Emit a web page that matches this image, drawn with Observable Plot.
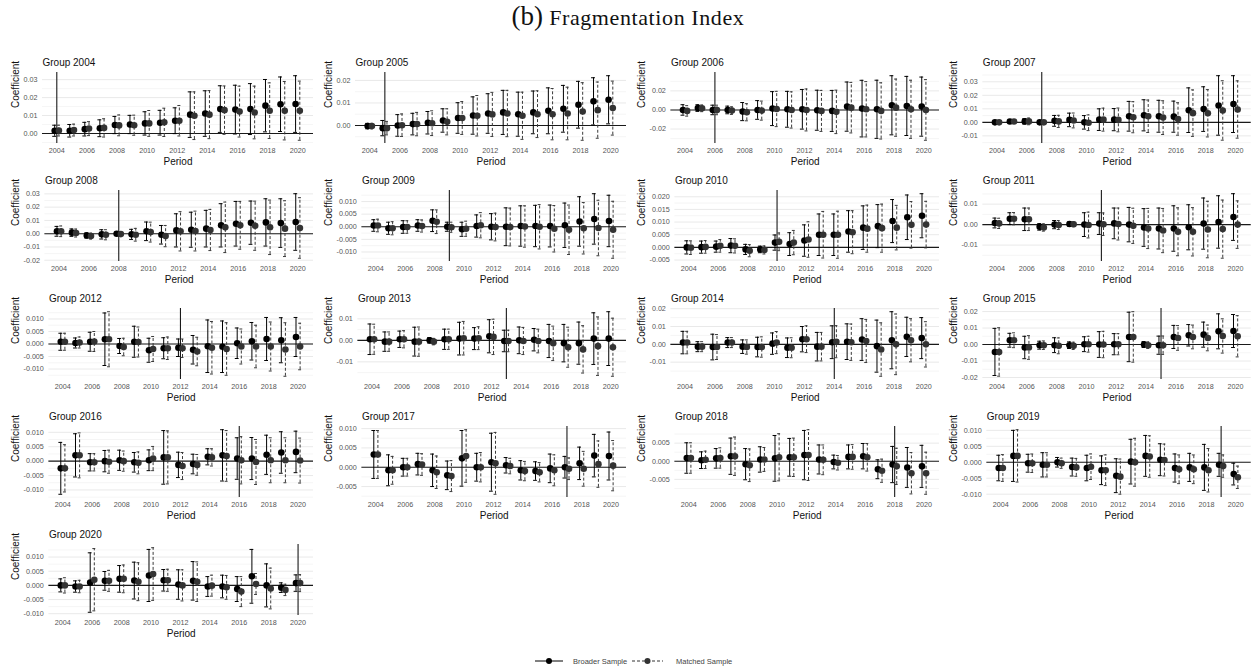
<!DOCTYPE html>
<html>
<head>
<meta charset="utf-8">
<script src="https://cdn.jsdelivr.net/npm/d3@7"></script>
<script src="https://cdn.jsdelivr.net/npm/@observablehq/plot@0.6"></script>
<style>
  body { margin: 0; background: #fff; }
  #root { position: relative; width: 1251px; height: 669px; overflow: hidden; background: #fff; }
  #title { position: absolute; left: 0; width: 1256px; top: 4px; text-align: center;
           font-family: "Liberation Serif", "DejaVu Serif", serif; font-size: 22px; line-height: 24px;
           letter-spacing: 0.6px; color: #111; }
  #title .tag { font-size: 27px; letter-spacing: 0; }
  .panel { position: absolute; }
  #legend { position: absolute; left: 0; top: 652px; }
</style>
</head>
<body>
<div id="root">
  <div id="title"><span class="tag">(b)</span> Fragmentation Index</div>
</div>
<script>
// Event-study coefficients of the fragmentation index, one row per treatment group,
// one column per period (2004 ... 2020). CI arrays hold the half-width of the 95% interval.
const years = [2004, 2005, 2006, 2007, 2008, 2009, 2010, 2011, 2012, 2013, 2014, 2015, 2016, 2017, 2018, 2019, 2020];
const groups = [2004, 2005, 2006, 2007, 2008, 2009, 2010, 2011, 2012, 2013, 2014, 2015, 2016, 2017, 2018, 2019, 2020];
const xTicks = [2004, 2006, 2008, 2010, 2012, 2014, 2016, 2018, 2020];

const broaderEst = [
  [0.0015,0.0015,0.0024,0.0029,0.0047,0.0050,0.0056,0.0060,0.0071,0.0105,0.0111,0.0136,0.0133,0.0136,0.0155,0.0163,0.0164],
  [-0.0003,-0.0012,0.0000,0.0006,0.0012,0.0022,0.0033,0.0044,0.0053,0.0058,0.0050,0.0058,0.0065,0.0074,0.0092,0.0107,0.0114],
  [0.0000,0.0020,0.0000,0.0000,-0.0017,0.0000,0.0014,0.0007,0.0007,-0.0003,-0.0010,0.0035,0.0014,0.0007,0.0049,0.0042,0.0035],
  [0.0000,0.0006,0.0007,0.0000,0.0011,0.0018,0.0000,0.0020,0.0020,0.0045,0.0052,0.0045,0.0042,0.0090,0.0098,0.0125,0.0135],
  [0.0018,0.0008,-0.0013,-0.0005,0.0000,-0.0005,0.0018,-0.0008,0.0025,0.0030,0.0038,0.0063,0.0075,0.0083,0.0085,0.0080,0.0088],
  [0.0005,-0.0006,-0.0001,0.0005,0.0024,0.0000,-0.0010,0.0003,0.0000,0.0000,0.0003,0.0003,0.0003,0.0006,0.0021,0.0031,0.0023],
  [0.0000,0.0001,0.0003,0.0007,-0.0008,-0.0008,0.0019,0.0013,0.0027,0.0050,0.0050,0.0063,0.0078,0.0084,0.0104,0.0119,0.0125],
  [0.0008,0.0029,0.0026,-0.0011,0.0000,0.0003,0.0000,0.0005,0.0006,0.0000,-0.0014,-0.0019,-0.0019,-0.0013,0.0005,0.0013,0.0037],
  [0.0009,0.0004,0.0009,0.0019,-0.0008,0.0009,-0.0025,-0.0017,-0.0015,-0.0023,-0.0009,-0.0011,0.0003,0.0011,0.0020,0.0015,0.0028],
  [0.0005,-0.0006,0.0005,-0.0006,0.0000,0.0005,0.0008,0.0008,0.0019,-0.0003,0.0000,0.0003,-0.0003,-0.0013,-0.0013,0.0008,0.0008],
  [0.0010,-0.0013,-0.0015,0.0010,-0.0013,-0.0015,0.0004,-0.0019,0.0029,-0.0013,0.0012,0.0015,0.0027,-0.0010,0.0023,0.0042,0.0035],
  [-0.0045,0.0026,-0.0018,-0.0004,-0.0004,-0.0004,0.0002,0.0000,0.0002,0.0046,0.0000,-0.0004,0.0046,0.0056,0.0060,0.0080,0.0082],
  [-0.0025,0.0020,-0.0004,0.0000,0.0003,-0.0004,0.0003,0.0013,-0.0013,-0.0010,0.0015,0.0020,0.0009,0.0009,0.0022,0.0030,0.0032],
  [0.0033,-0.0008,0.0000,0.0008,-0.0008,-0.0021,0.0023,0.0000,0.0013,0.0005,-0.0008,-0.0010,-0.0003,0.0000,0.0010,0.0030,0.0029],
  [0.0009,0.0003,0.0008,0.0014,-0.0008,0.0005,0.0008,0.0011,0.0017,0.0005,-0.0002,0.0012,0.0014,-0.0022,-0.0009,-0.0017,-0.0014],
  [-0.0018,0.0020,-0.0003,-0.0008,0.0000,-0.0015,-0.0018,-0.0025,-0.0042,0.0002,0.0020,0.0008,-0.0018,-0.0016,-0.0016,-0.0008,-0.0037],
  [0.0000,-0.0004,0.0010,0.0016,0.0023,0.0017,0.0035,0.0018,0.0003,0.0016,-0.0004,-0.0004,-0.0013,0.0032,0.0000,-0.0008,0.0008]
];
const broaderCI = [
  [0.0031,0.0035,0.0038,0.0047,0.0048,0.0051,0.0065,0.0069,0.0072,0.0127,0.0127,0.0130,0.0136,0.0142,0.0146,0.0152,0.0158],
  [0.0012,0.0034,0.0048,0.0048,0.0050,0.0052,0.0068,0.0083,0.0088,0.0098,0.0098,0.0095,0.0102,0.0104,0.0104,0.0105,0.0107],
  [0.0055,0.0035,0.0050,0.0040,0.0095,0.0098,0.0178,0.0188,0.0208,0.0210,0.0215,0.0258,0.0297,0.0305,0.0310,0.0310,0.0310],
  [0.0007,0.0008,0.0020,0.0000,0.0040,0.0050,0.0050,0.0080,0.0082,0.0110,0.0115,0.0118,0.0115,0.0165,0.0165,0.0220,0.0210],
  [0.0037,0.0028,0.0020,0.0035,0.0012,0.0038,0.0070,0.0070,0.0125,0.0132,0.0138,0.0163,0.0168,0.0163,0.0178,0.0183,0.0213],
  [0.0023,0.0024,0.0025,0.0023,0.0043,0.0018,0.0028,0.0044,0.0052,0.0075,0.0080,0.0082,0.0083,0.0088,0.0098,0.0100,0.0102],
  [0.0026,0.0024,0.0022,0.0028,0.0020,0.0013,0.0030,0.0045,0.0062,0.0082,0.0082,0.0082,0.0086,0.0085,0.0085,0.0088,0.0087],
  [0.0024,0.0029,0.0055,0.0016,0.0020,0.0010,0.0058,0.0053,0.0075,0.0084,0.0092,0.0100,0.0111,0.0110,0.0125,0.0128,0.0114],
  [0.0034,0.0020,0.0038,0.0105,0.0030,0.0062,0.0048,0.0042,0.0035,0.0057,0.0105,0.0103,0.0061,0.0075,0.0086,0.0090,0.0078],
  [0.0071,0.0045,0.0038,0.0067,0.0013,0.0047,0.0076,0.0051,0.0077,0.0050,0.0062,0.0052,0.0077,0.0087,0.0098,0.0120,0.0125],
  [0.0063,0.0028,0.0072,0.0028,0.0038,0.0055,0.0060,0.0055,0.0071,0.0080,0.0092,0.0100,0.0117,0.0146,0.0160,0.0110,0.0115],
  [0.0143,0.0042,0.0068,0.0024,0.0045,0.0020,0.0045,0.0078,0.0064,0.0150,0.0018,0.0055,0.0070,0.0065,0.0076,0.0106,0.0100],
  [0.0090,0.0075,0.0030,0.0037,0.0035,0.0034,0.0036,0.0093,0.0044,0.0034,0.0028,0.0089,0.0072,0.0073,0.0068,0.0072,0.0072],
  [0.0062,0.0040,0.0023,0.0028,0.0042,0.0037,0.0072,0.0036,0.0075,0.0020,0.0025,0.0024,0.0037,0.0028,0.0042,0.0055,0.0062],
  [0.0042,0.0023,0.0027,0.0050,0.0043,0.0035,0.0063,0.0052,0.0068,0.0040,0.0019,0.0033,0.0035,0.0026,0.0050,0.0055,0.0058],
  [0.0040,0.0080,0.0028,0.0038,0.0015,0.0028,0.0040,0.0045,0.0053,0.0070,0.0064,0.0050,0.0044,0.0044,0.0072,0.0036,0.0034],
  [0.0023,0.0020,0.0105,0.0033,0.0047,0.0065,0.0092,0.0038,0.0052,0.0068,0.0035,0.0040,0.0044,0.0095,0.0076,0.0017,0.0029]
];
const matchedEst = [
  [0.0016,0.0019,0.0027,0.0031,0.0045,0.0046,0.0056,0.0062,0.0071,0.0099,0.0105,0.0130,0.0122,0.0117,0.0127,0.0127,0.0127],
  [-0.0003,-0.0012,0.0001,0.0006,0.0010,0.0016,0.0033,0.0043,0.0049,0.0053,0.0043,0.0050,0.0050,0.0053,0.0062,0.0068,0.0077],
  [-0.0010,0.0017,0.0000,-0.0007,-0.0024,-0.0007,0.0010,0.0000,0.0000,-0.0010,-0.0020,0.0024,0.0007,-0.0010,0.0024,0.0007,0.0000],
  [0.0000,0.0006,0.0007,0.0000,0.0007,0.0014,-0.0003,0.0020,0.0018,0.0038,0.0045,0.0035,0.0025,0.0068,0.0067,0.0088,0.0095],
  [0.0018,0.0005,-0.0018,-0.0008,-0.0003,-0.0008,0.0012,-0.0018,0.0018,0.0020,0.0028,0.0048,0.0063,0.0060,0.0048,0.0038,0.0043],
  [0.0005,-0.0006,-0.0001,0.0003,0.0020,-0.0002,-0.0008,0.0006,-0.0001,-0.0001,0.0001,0.0000,-0.0008,-0.0012,-0.0006,-0.0005,-0.0012],
  [-0.0001,0.0002,0.0006,0.0006,-0.0013,-0.0010,0.0022,0.0019,0.0031,0.0050,0.0050,0.0060,0.0074,0.0076,0.0078,0.0089,0.0090],
  [0.0006,0.0029,0.0026,-0.0014,-0.0002,0.0002,-0.0002,0.0002,0.0003,-0.0006,-0.0019,-0.0029,-0.0035,-0.0035,-0.0024,-0.0022,0.0000],
  [0.0009,0.0006,0.0010,0.0019,-0.0012,0.0008,-0.0020,-0.0017,-0.0017,-0.0030,-0.0015,-0.0020,-0.0010,-0.0010,-0.0010,-0.0022,-0.0010],
  [0.0005,-0.0006,0.0005,-0.0006,-0.0006,0.0005,0.0010,0.0010,0.0016,-0.0003,-0.0003,-0.0003,-0.0014,-0.0032,-0.0042,-0.0027,-0.0032],
  [0.0010,-0.0013,-0.0015,0.0010,-0.0015,-0.0015,0.0010,-0.0019,0.0029,-0.0013,0.0015,0.0012,0.0019,-0.0029,0.0000,0.0023,0.0000],
  [-0.0045,0.0026,-0.0018,-0.0004,-0.0008,-0.0008,0.0002,0.0000,0.0002,0.0046,-0.0004,-0.0004,0.0040,0.0046,0.0040,0.0052,0.0050],
  [-0.0025,0.0020,-0.0004,-0.0002,0.0000,-0.0006,0.0009,0.0013,-0.0017,-0.0013,0.0013,0.0018,0.0003,-0.0003,0.0003,0.0003,0.0002],
  [0.0033,-0.0008,0.0000,0.0007,-0.0013,-0.0023,0.0029,0.0000,0.0010,0.0003,-0.0010,-0.0013,-0.0008,-0.0004,-0.0004,0.0008,0.0004],
  [0.0009,0.0004,0.0009,0.0014,-0.0011,0.0005,0.0011,0.0011,0.0017,0.0004,-0.0004,0.0012,0.0011,-0.0026,-0.0014,-0.0033,-0.0033],
  [-0.0018,0.0020,-0.0003,-0.0008,-0.0003,-0.0016,-0.0014,-0.0025,-0.0045,0.0000,0.0018,0.0007,-0.0022,-0.0022,-0.0025,-0.0012,-0.0047],
  [0.0000,-0.0004,0.0020,0.0016,0.0023,0.0013,0.0040,0.0018,0.0000,0.0013,-0.0001,-0.0007,-0.0022,0.0005,-0.0011,-0.0016,0.0008]
];
const matchedCI = [
  [0.0030,0.0033,0.0039,0.0051,0.0058,0.0056,0.0072,0.0079,0.0085,0.0133,0.0134,0.0135,0.0142,0.0147,0.0155,0.0163,0.0165],
  [0.0012,0.0030,0.0050,0.0052,0.0055,0.0058,0.0073,0.0090,0.0098,0.0103,0.0105,0.0104,0.0114,0.0117,0.0128,0.0125,0.0120],
  [0.0055,0.0035,0.0050,0.0040,0.0090,0.0100,0.0185,0.0190,0.0220,0.0215,0.0228,0.0265,0.0290,0.0295,0.0300,0.0305,0.0318],
  [0.0007,0.0008,0.0025,0.0000,0.0045,0.0055,0.0058,0.0085,0.0088,0.0115,0.0120,0.0125,0.0120,0.0172,0.0175,0.0220,0.0212],
  [0.0040,0.0030,0.0022,0.0038,0.0012,0.0048,0.0075,0.0080,0.0148,0.0150,0.0155,0.0190,0.0180,0.0185,0.0205,0.0210,0.0228],
  [0.0025,0.0026,0.0025,0.0024,0.0047,0.0020,0.0030,0.0050,0.0055,0.0075,0.0082,0.0088,0.0092,0.0098,0.0102,0.0110,0.0113],
  [0.0027,0.0025,0.0025,0.0028,0.0024,0.0016,0.0035,0.0048,0.0070,0.0092,0.0093,0.0085,0.0093,0.0095,0.0088,0.0092,0.0092],
  [0.0025,0.0030,0.0055,0.0018,0.0022,0.0012,0.0063,0.0055,0.0078,0.0086,0.0098,0.0108,0.0117,0.0118,0.0138,0.0142,0.0116],
  [0.0034,0.0022,0.0040,0.0110,0.0035,0.0060,0.0050,0.0045,0.0037,0.0057,0.0105,0.0105,0.0070,0.0085,0.0098,0.0107,0.0093],
  [0.0070,0.0045,0.0040,0.0068,0.0015,0.0047,0.0078,0.0053,0.0082,0.0050,0.0063,0.0055,0.0080,0.0093,0.0110,0.0136,0.0135],
  [0.0063,0.0028,0.0070,0.0028,0.0040,0.0057,0.0062,0.0056,0.0075,0.0080,0.0090,0.0102,0.0121,0.0150,0.0170,0.0121,0.0127],
  [0.0147,0.0045,0.0072,0.0026,0.0048,0.0022,0.0048,0.0080,0.0064,0.0153,0.0020,0.0056,0.0075,0.0072,0.0078,0.0104,0.0125],
  [0.0082,0.0078,0.0030,0.0040,0.0035,0.0038,0.0042,0.0092,0.0047,0.0036,0.0030,0.0088,0.0082,0.0078,0.0078,0.0078,0.0078],
  [0.0062,0.0036,0.0023,0.0028,0.0042,0.0040,0.0068,0.0038,0.0080,0.0020,0.0025,0.0025,0.0040,0.0028,0.0045,0.0060,0.0065],
  [0.0042,0.0024,0.0028,0.0053,0.0045,0.0033,0.0065,0.0053,0.0070,0.0041,0.0020,0.0034,0.0038,0.0032,0.0050,0.0057,0.0058],
  [0.0042,0.0082,0.0029,0.0038,0.0016,0.0028,0.0040,0.0048,0.0055,0.0075,0.0065,0.0050,0.0045,0.0045,0.0068,0.0035,0.0035],
  [0.0027,0.0022,0.0110,0.0037,0.0049,0.0067,0.0093,0.0039,0.0055,0.0070,0.0037,0.0042,0.0053,0.0037,0.0072,0.0020,0.0030]
];

// Major y breaks for each group's panel
const yTicks = [
  [0, 0.01, 0.02, 0.03],
  [0, 0.01, 0.02],
  [-0.02, 0, 0.02],
  [-0.01, 0, 0.01, 0.02, 0.03],
  [-0.02, -0.01, 0, 0.01, 0.02, 0.03],
  [-0.01, -0.005, 0, 0.005, 0.01],
  [-0.005, 0, 0.005, 0.01, 0.015, 0.02],
  [-0.01, 0, 0.01],
  [-0.01, -0.005, 0, 0.005, 0.01],
  [-0.01, 0, 0.01],
  [-0.01, 0, 0.01, 0.02],
  [-0.02, -0.01, 0, 0.01, 0.02],
  [-0.01, -0.005, 0, 0.005, 0.01],
  [-0.005, 0, 0.005, 0.01],
  [-0.005, 0, 0.005],
  [-0.01, -0.005, 0, 0.005, 0.01],
  [-0.01, -0.005, 0, 0.005, 0.01]
];

const seriesNames = ["Broader Sample", "Matched Sample"];

const root = document.getElementById("root");
const cellW = 312.75, cellH = 118, gridTop = 52;
const mTop = 20, mBottom = 27;
const dodge = 0.14;
const font = "Liberation Sans, Arial, sans-serif";
const tickSize = 7.2, titleSize = 10;
const measure = document.createElement("canvas").getContext("2d");
measure.font = `${tickSize}px 'Liberation Sans'`;

groups.forEach((g, i) => {
  const col = i % 4, row = Math.floor(i / 4);
  const broader = years.map((p, j) => ({period: p, x: p - dodge, est: broaderEst[i][j], ci: broaderCI[i][j]}));
  const matched = years.map((p, j) => ({period: p, x: p + dodge, est: matchedEst[i][j], ci: matchedCI[i][j]}));
  const all = broader.concat(matched);
  const lo = Math.min(0, d3.min(all, d => d.est - d.ci));
  const hi = Math.max(0, d3.max(all, d => d.est + d.ci));
  const pad = (hi - lo) * 0.05;
  const yDomain = [lo - pad, hi + pad];

  const majors = yTicks[i];
  const step = majors[1] - majors[0];
  const dec = step < 0.0099 ? 3 : 2;
  const fmt = t => (Math.abs(t) < 1e-12 ? 0 : t).toFixed(dec);
  const shown = majors.filter(t => t >= yDomain[0] && t <= yDomain[1]);
  const minors = [];
  for (let k = 0; k <= majors.length; k++) {
    const m = majors[0] - step / 2 + k * step;
    if (m >= yDomain[0] && m <= yDomain[1]) minors.push(m);
  }
  const labelW = d3.max(shown, t => measure.measureText(fmt(t)).width);
  const mLeft = 23 + labelW + 5;

  const withCI = arr => arr.filter(d => d.ci > 0);

  const chart = Plot.plot({
    width: 313,
    height: cellH,
    marginTop: mTop,
    marginBottom: mBottom,
    marginLeft: mLeft,
    marginRight: 0,
    style: {fontFamily: font, fontSize: `${tickSize}px`, color: "#555", background: "transparent", overflow: "visible"},
    x: {domain: [2003.05, 2021.05], ticks: xTicks, tickSize: 0, tickPadding: 4, tickFormat: d => String(d), label: null},
    y: {domain: yDomain, ticks: shown, tickSize: 0, tickPadding: 5, tickFormat: fmt, label: null},
    marks: [
      Plot.ruleY(minors, {stroke: "#f1f1f1", strokeWidth: 0.7}),
      Plot.ruleY(shown, {stroke: "#e6e6e6", strokeWidth: 0.9}),
      Plot.ruleY([0], {stroke: "#1a1a1a", strokeWidth: 1.1}),
      Plot.ruleX([g], {stroke: "#1a1a1a", strokeWidth: 1.1}),
      // broader sample: solid interval with caps
      Plot.ruleX(withCI(broader), {x: "x", y1: d => d.est - d.ci, y2: d => d.est + d.ci, stroke: "#000", strokeWidth: 1}),
      Plot.ruleY(withCI(broader), {y: d => d.est + d.ci, x1: d => d.x - 0.13, x2: d => d.x + 0.13, stroke: "#000", strokeWidth: 1}),
      Plot.ruleY(withCI(broader), {y: d => d.est - d.ci, x1: d => d.x - 0.13, x2: d => d.x + 0.13, stroke: "#000", strokeWidth: 1}),
      // matched sample: dashed interval with caps
      Plot.ruleX(withCI(matched), {x: "x", y1: d => d.est - d.ci, y2: d => d.est + d.ci, stroke: "#3a3a3a", strokeWidth: 1, strokeDasharray: "3,2"}),
      Plot.ruleY(withCI(matched), {y: d => d.est + d.ci, x1: d => d.x - 0.1, x2: d => d.x + 0.1, stroke: "#3a3a3a", strokeWidth: 1}),
      Plot.ruleY(withCI(matched), {y: d => d.est - d.ci, x1: d => d.x - 0.1, x2: d => d.x + 0.1, stroke: "#3a3a3a", strokeWidth: 1}),
      Plot.dot(broader, {x: "x", y: "est", r: 3.3, fill: "#000", stroke: "none"}),
      Plot.dot(matched, {x: "x", y: "est", r: 3.3, fill: "#333", stroke: "none"}),
      Plot.text([`Group ${g}`], {text: d => d, frameAnchor: "top-left", dy: -10, textAnchor: "start", lineAnchor: "middle", fontSize: titleSize, fill: "#111"}),
      Plot.text(["Period"], {text: d => d, frameAnchor: "bottom", dy: 18, lineAnchor: "middle", fontSize: titleSize, fill: "#111"}),
      Plot.text(["Coefficient"], {text: d => d, frameAnchor: "left", dx: 15 - mLeft, rotate: -90, lineAnchor: "middle", fontSize: titleSize, fill: "#111"})
    ]
  });
  const wrap = document.createElement("div");
  wrap.className = "panel";
  wrap.style.left = (col * cellW) + "px";
  wrap.style.top = (gridTop + row * cellH) + "px";
  wrap.appendChild(chart);
  root.appendChild(wrap);
});

// Legend along the bottom
const legend = d3.create("svg").attr("id", "legend").attr("width", 1251).attr("height", 17)
  .style("font-family", font).style("font-size", "7.5px");
const ly = 9;
const items = [
  {name: seriesNames[0], x0: 535, x1: 563, dash: null, fill: "#000", tx: 573},
  {name: seriesNames[1], x0: 632, x1: 663, dash: "3,2", fill: "#333", tx: 676}
];
items.forEach(it => {
  legend.append("line").attr("x1", it.x0).attr("x2", it.x1).attr("y1", ly).attr("y2", ly)
    .attr("stroke", it.fill).attr("stroke-width", 1).attr("stroke-dasharray", it.dash);
  legend.append("circle").attr("cx", (it.x0 + it.x1) / 2).attr("cy", ly).attr("r", 3).attr("fill", it.fill);
  legend.append("text").attr("x", it.tx).attr("y", ly).attr("dy", "0.35em").attr("fill", "#444").text(it.name);
});
root.appendChild(legend.node());
</script>
</body>
</html>
